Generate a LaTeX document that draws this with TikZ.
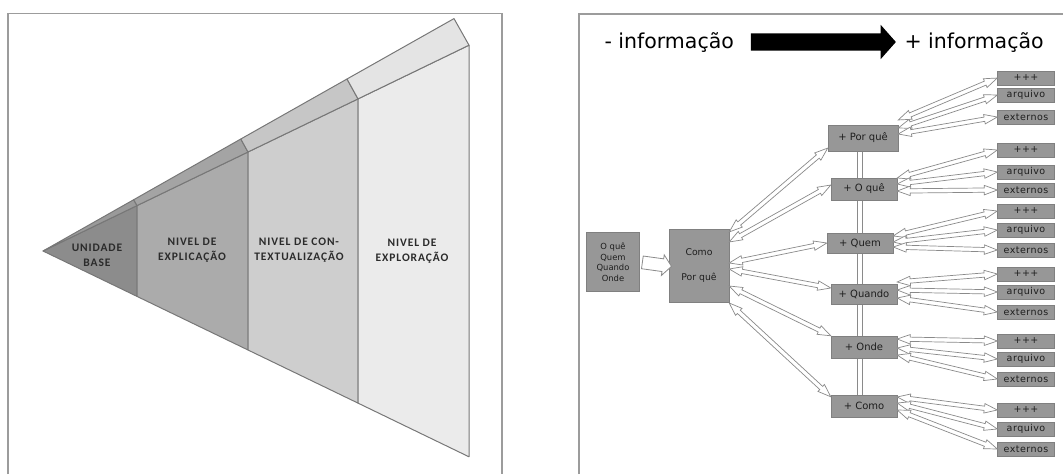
\documentclass[tikz,border=0pt]{standalone}
\usepackage{fontspec}
\setmainfont{DejaVu Sans}
\newfontfamily\fanfont[LetterSpace=8]{Carlito}
\newfontfamily\leaffont[LetterSpace=5]{DejaVu Sans}
\usepackage{tikz}
\usetikzlibrary{shapes,arrows,positioning,calc,backgrounds}

\definecolor{framegray}{HTML}{9C9C9C}
\definecolor{edgegray}{HTML}{777777}
\definecolor{fantext}{HTML}{2B2B2B}
\definecolor{face1}{HTML}{8C8C8C}
\definecolor{face2}{HTML}{ABABAB}
\definecolor{face3}{HTML}{CECECE}
\definecolor{face4}{HTML}{EBEBEB}
\definecolor{lid1}{HTML}{9A9A9A}
\definecolor{lid2}{HTML}{A4A4A4}
\definecolor{lid3}{HTML}{C6C6C6}
\definecolor{lid4}{HTML}{E4E4E4}
\definecolor{boxgray}{HTML}{979797}
\definecolor{boxedge}{HTML}{808080}
\definecolor{boxtext}{HTML}{1E1E1E}
\definecolor{arrowedge}{HTML}{8A8A8A}

\begin{document}
\begin{tikzpicture}[x=1pt,y=-1pt,
    fan/.style={draw=edgegray, line width=1pt, line join=round},
    fanlabel/.style={align=center, text=fantext, font=\fanfont\bfseries\fontsize{11.5}{15}\selectfont},
    box/.style={draw=boxedge, fill=boxgray, text=boxtext, inner sep=0pt, font=\fontsize{10}{11}\selectfont},
    mid/.style={box, minimum width=66pt, minimum height=22pt},
    leaf/.style={box, minimum width=57pt, minimum height=14pt, font=\leaffont\fontsize{9.5}{10}\selectfont},
    twoway/.style={double arrow, draw=arrowedge, fill=white, line width=0.7pt, inner sep=1.8pt, double arrow head extend=2.6pt, double arrow tip angle=40},
    fatarrow/.style={single arrow, draw=arrowedge, fill=white, line width=0.8pt, inner sep=6pt, single arrow head extend=4pt, single arrow tip angle=100},
    bigarrow/.style={single arrow, fill=black, inner sep=8.5pt, minimum height=145pt, single arrow head extend=8.5pt, single arrow tip angle=97},
    conn/.style={to path={let \p1=(\tikztostart), \p2=(\tikztotarget),
        \n1={atan2(\y2-\y1,\x2-\x1)}, \n2={veclen(\x2-\x1,\y2-\y1)} in
        node[#1, rotate=\n1, minimum height=\n2] at ($(\p1)!0.5!(\p2)$) {}}}
]
    \useasboundingbox (0,0) rectangle (1063,474);

    \draw[framegray, line width=1.5pt] (8,474) |- (502,13.5) -- (502,474);
    \draw[framegray, line width=1.5pt] (579,474) |- (1063,14);

    \coordinate (apex) at (43,251);
    \coordinate (L1) at (137,205.6);
    \coordinate (L2) at (248,152);
    \coordinate (L3) at (358,98.9);
    \coordinate (L4) at (469,45.2);
    \coordinate (U1) at (133.7,199.7);
    \coordinate (U2) at (240.8,139);
    \coordinate (U3) at (347,79);
    \coordinate (U4) at (454,18.6);
    \coordinate (B1) at (137,296.4);
    \coordinate (B2) at (248,350);
    \coordinate (B3) at (358,403.1);
    \coordinate (B4) at (469,456.8);

    \filldraw[fan, fill=face1] (apex) -- (L1) -- (B1) -- cycle;
    \filldraw[fan, fill=face2] (L1) -- (L2) -- (B2) -- (B1) -- cycle;
    \filldraw[fan, fill=face3] (L2) -- (L3) -- (B3) -- (B2) -- cycle;
    \filldraw[fan, fill=face4] (L3) -- (L4) -- (B4) -- (B3) -- cycle;
    \filldraw[fan, fill=lid1] (apex) -- (U1) -- (L1) -- cycle;
    \filldraw[fan, fill=lid2] (L1) -- (U1) -- (U2) -- (L2) -- cycle;
    \filldraw[fan, fill=lid3] (L2) -- (U2) -- (U3) -- (L3) -- cycle;
    \filldraw[fan, fill=lid4] (L3) -- (U3) -- (U4) -- (L4) -- cycle;

    \node[fanlabel] (unidade) at (97,255) {UNIDADE\\BASE};
    \node[fanlabel] (explicacao) at (192,250) {NIVEL DE\\EXPLICAÇÃO};
    \node[fanlabel] (contexto) at (299,250) {NIVEL DE CON-\\TEXTUALIZAÇÃO};
    \node[fanlabel] (exploracao) at (412,251) {NIVEL DE\\EXPLORAÇÃO};

    \node[anchor=west, font=\fontsize{20.5}{22}\selectfont] (menos) at (601,43) {- informação};
    \node[bigarrow] (seta) at (819.5,42) {};
    \node[anchor=west, font=\fontsize{20.5}{22}\selectfont] (mais) at (901,43) {+ informação};

    \node[box, minimum width=53pt, minimum height=59pt, align=center, font=\fontsize{8.4}{10.5}\selectfont] (fatos) at (613,262) {O quê\\Quem\\Quando\\Onde};
    \node[box, minimum width=60pt, minimum height=73pt, align=center, font=\fontsize{9.3}{11}\selectfont] (nucleo) at (699,266) {Como\\[14pt]Por quê};

    \node[mid, minimum width=70pt, minimum height=26pt] (porque) at (863,138) {+ Por quê};
    \node[mid] (oque) at (864,189) {+ O quê};
    \node[mid, minimum height=20pt] (quem) at (860,243) {+ Quem};
    \node[mid, minimum height=20pt] (quando) at (864,294) {+ Quando};
    \node[mid] (onde) at (864,347) {+ Onde};
    \node[mid] (como) at (864,406) {+ Como};

    \begin{scope}[on background layer]
        \draw[arrowedge, line width=0.8pt, double=white, double distance=3.5pt] ([xshift=-3pt]porque.south) -- ([xshift=-4pt]como.north);
    \end{scope}

    \node[leaf] (porque-mais) at (1026,78) {+++};
    \node[leaf] (porque-arq) at (1026,95) {arquivo};
    \node[leaf] (porque-ext) at (1026,117) {externos};
    \node[leaf] (oque-mais) at (1026,150) {+++};
    \node[leaf] (oque-arq) at (1026,172) {arquivo};
    \node[leaf] (oque-ext) at (1026,190) {externos};
    \node[leaf] (quem-mais) at (1026,211) {+++};
    \node[leaf] (quem-arq) at (1026,230) {arquivo};
    \node[leaf] (quem-ext) at (1026,250) {externos};
    \node[leaf] (quando-mais) at (1026,274) {+++};
    \node[leaf] (quando-arq) at (1026,292) {arquivo};
    \node[leaf] (quando-ext) at (1026,312) {externos};
    \node[leaf] (onde-mais) at (1026,341) {+++};
    \node[leaf] (onde-arq) at (1026,359) {arquivo};
    \node[leaf] (onde-ext) at (1026,379) {externos};
    \node[leaf] (como-mais) at (1026,410) {+++};
    \node[leaf] (como-arq) at (1026,429) {arquivo};
    \node[leaf] (como-ext) at (1026,449) {externos};

    \draw (fatos.east) to[conn=fatarrow] (nucleo.west);

    \draw ([yshift=34pt]nucleo.east) to[conn=twoway] ([yshift=-10pt]porque.west);
    \draw ([yshift=24pt]nucleo.east) to[conn=twoway] ([yshift=4pt]oque.west);
    \draw ([yshift=3pt]nucleo.east) to[conn=twoway] (quem.west);
    \draw ([yshift=-3pt]nucleo.east) to[conn=twoway] ([yshift=6pt]quando.west);
    \draw ([yshift=-20pt]nucleo.east) to[conn=twoway] (onde.north west);
    \draw ([yshift=-37pt]nucleo.east) to[conn=twoway] ([yshift=-2pt]como.north west);

    \draw ([yshift=18pt]porque.east) to[conn=twoway] (porque-mais.west);
    \draw ([yshift=10pt]porque.east) to[conn=twoway] (porque-arq.west);
    \draw ([yshift=4pt]porque.east) to[conn=twoway] (porque-ext.west);
    \draw ([yshift=11pt]oque.east) to[conn=twoway] (oque-mais.west);
    \draw ([yshift=5pt]oque.east) to[conn=twoway] (oque-arq.west);
    \draw ([yshift=-2pt]oque.east) to[conn=twoway] (oque-ext.west);
    \draw ([yshift=7pt]quem.east) to[conn=twoway] (quem-mais.west);
    \draw ([yshift=1pt]quem.east) to[conn=twoway] (quem-arq.west);
    \draw ([yshift=-4pt]quem.east) to[conn=twoway] (quem-ext.west);
    \draw ([yshift=12pt]quando.east) to[conn=twoway] (quando-mais.west);
    \draw ([yshift=4pt]quando.east) to[conn=twoway] (quando-arq.west);
    \draw ([yshift=-4pt]quando.east) to[conn=twoway] (quando-ext.west);
    \draw ([yshift=8pt]onde.east) to[conn=twoway] (onde-mais.west);
    \draw ([yshift=-1pt]onde.east) to[conn=twoway] (onde-arq.west);
    \draw ([yshift=-8pt]onde.east) to[conn=twoway] (onde-ext.west);
    \draw ([yshift=9pt]como.east) to[conn=twoway] (como-mais.west);
    \draw ([yshift=3pt]como.east) to[conn=twoway] (como-arq.west);
    \draw ([yshift=-4pt]como.east) to[conn=twoway] (como-ext.west);
\end{tikzpicture}
\end{document}
